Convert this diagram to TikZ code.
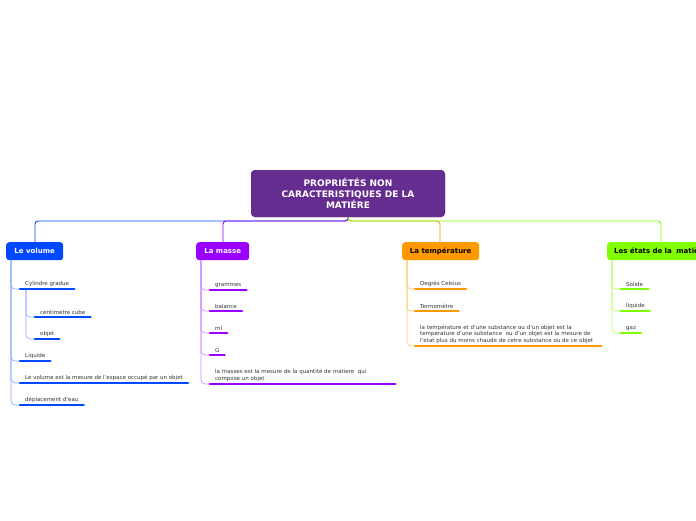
\documentclass[tikz,border=0pt]{standalone}
\usepackage{fontspec}
\setmainfont{DejaVu Sans}
\usepackage{tikz}
\usetikzlibrary{positioning}
\definecolor{rootpurple}{RGB}{102,45,145}
\definecolor{volblue}{RGB}{0,72,255}
\definecolor{massviolet}{RGB}{153,0,255}
\definecolor{temporange}{RGB}{255,153,0}
\definecolor{stategreen}{RGB}{128,255,0}
\definecolor{leaftext}{RGB}{50,50,50}

\begin{document}
\begin{tikzpicture}[
  x=1pt, y=-1pt,
  topic/.style={rounded corners=3pt, inner sep=0pt, minimum height=18pt,
                font=\fontsize{7}{8}\selectfont\bfseries, anchor=north west},
  root/.style={rounded corners=4pt, fill=rootpurple, text=white, align=center,
               minimum width=194pt, minimum height=47pt,
               font=\fontsize{9}{11}\selectfont\bfseries},
  leaf/.style={anchor=south west, inner xsep=5pt, inner ysep=2.2pt, align=left,
               text=leaftext, font=\fontsize{5.5}{6.5}\selectfont},
  bar/.style={line width=2.6pt, line cap=round},
  trunk/.style={line width=0.9pt, rounded corners=3pt},
  twig/.style={line width=0.7pt, rounded corners=4pt}
]
\useasboundingbox (0,0) rectangle (696,520);
\clip (0,0) rectangle (696,520);

% central topic
\node[root] (main) at (348,193.5) {PROPRIÉTÉS NON\\CARACTERISTIQUES DE LA\\MATIÉRE};

% main topics
\node[topic, fill=volblue, text=white, minimum width=57pt] (vol) at (6,242) {Le volume};
\node[topic, fill=massviolet, text=white, minimum width=53pt] (mass) at (196,242) {La masse};
\node[topic, fill=temporange, text=black, minimum width=77pt] (temp) at (402,242) {La température};
\node[topic, fill=stategreen, text=black, inner xsep=7pt, align=left,
      text width=100pt] (state) at (607,242) {Les états de la\ \ matière};

\coordinate (hub) at (348,221);
\draw[trunk, volblue] (main.south) -- (hub) -| ([xshift=29pt]vol.north west);
\draw[trunk, massviolet] (main.south) -- (hub) -| ([xshift=27pt]mass.north west);
\draw[trunk, temporange] (main.south) -- (hub) -| ([xshift=38pt]temp.north west);
\draw[trunk, stategreen] (main.south) -- (hub) -| ([xshift=54pt]state.north west);
\node[root] at (main) {PROPRIÉTÉS NON\\CARACTERISTIQUES DE LA\\MATIÉRE};

% le volume
\coordinate (vtrunk) at ([xshift=5pt]vol.south west);
\node[leaf] (v1) at (20,289) {Cylindre gradue};
\node[leaf] (v2) at (35,317) {centimetre cube};
\node[leaf] (v3) at (35,339) {objet};
\node[leaf] (v4) at (20,361) {Liquide};
\node[leaf] (v5) at (20,383) {Le volume est la mesure de l'espace occupé par un objet};
\node[leaf] (v6) at (20,405) {déplacement d'eau};
\coordinate (vsub) at ([xshift=6pt]v1.south west);
\foreach \k in {v1,v4,v5,v6}
  \draw[twig, volblue!45] (vtrunk) |- (\k.south west);
\foreach \k in {v2,v3}
  \draw[twig, volblue!45] (vsub) |- (\k.south west);
\foreach \k in {v1,v2,v3,v4,v5,v6}
  \draw[bar, volblue] (\k.south west) -- (\k.south east);

% la masse
\coordinate (mtrunk) at ([xshift=5pt]mass.south west);
\node[leaf] (m1) at (210,290) {grammes};
\node[leaf] (m2) at (210,311) {balance};
\node[leaf] (m3) at (210,333) {ml};
\node[leaf] (m4) at (210,355) {G};
\node[leaf, text width=175pt] (m5) at (210,384) {la masses est la mesure de la quantité de matiere\ \ qui\\compose un objet};
\foreach \k in {m1,m2,m3,m4,m5}
  \draw[twig, massviolet!45] (mtrunk) |- (\k.south west);
\foreach \k in {m1,m2,m3,m4,m5}
  \draw[bar, massviolet] (\k.south west) -- (\k.south east);

% la temperature
\coordinate (ttrunk) at ([xshift=5pt]temp.south west);
\node[leaf] (t1) at (415,289) {Degrés Celsius};
\node[leaf] (t2) at (415,311) {Termomètre};
\node[leaf, text width=176pt] (t3) at (415,346) {la température et d'une substance ou d'un objet est la\\température d'une substance\ \ ou d'un objet est la mesure de\\l'etat plus du moins chaude de cetre substance ou de ce objet};
\foreach \k in {t1,t2,t3}
  \draw[twig, temporange!55] (ttrunk) |- (\k.south west);
\foreach \k in {t1,t2,t3}
  \draw[bar, temporange] (\k.south west) -- (\k.south east);

% les etats de la matiere
\coordinate (strunk) at ([xshift=5pt]state.south west);
\node[leaf] (s1) at (621,289) {Solide};
\node[leaf] (s2) at (621,311) {liquide};
\node[leaf] (s3) at (621,333) {gaz};
\foreach \k in {s1,s2,s3}
  \draw[twig, stategreen!60] (strunk) |- (\k.south west);
\foreach \k in {s1,s2,s3}
  \draw[bar, stategreen] (\k.south west) -- (\k.south east);

\end{tikzpicture}
\end{document}
